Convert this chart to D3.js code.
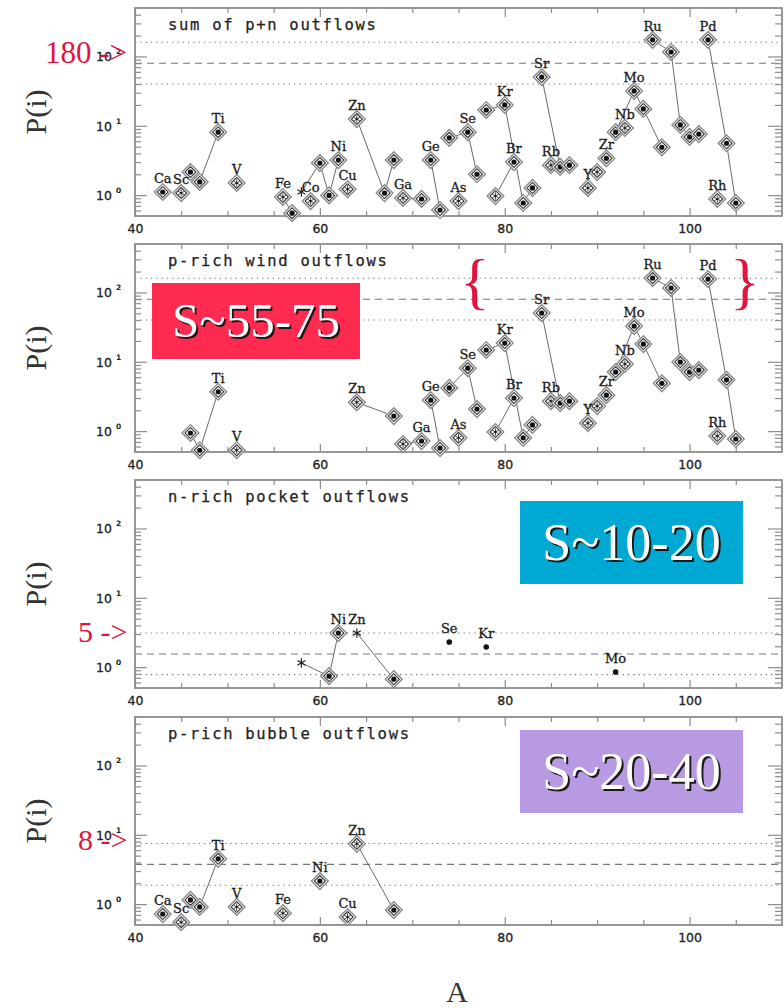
<!DOCTYPE html>
<html>
<head>
<meta charset="utf-8">
<script src="https://cdn.jsdelivr.net/npm/d3@7"></script>
<style>
  body { margin: 0; background: #fff; }
  svg { display: block; }
</style>
</head>
<body>
<svg width="784" height="1008"></svg>
<script>
// production factors P(i) against mass number A, one panel per outflow type
// read off the figure by eye, so values are approximate

const panelTitles = ["sum of p+n outflows", "p-rich wind outflows", "n-rich pocket outflows", "p-rich bubble outflows"]

// panel 1 - sum of p+n outflows
const sumA = [43,45,46,47,49,51,56,57,58,59,60,61,62,63,64,67,68,69,71,72,73,74,75,76,77,78,79,80,81,82,83,84,85,86,87,89,90,91,92,93,94,95,96,97,98,99,100,101,102,103,104,105]
const sumP = [1.11,1.07,2.15,1.55,8.1,1.5,0.94,0.55,1.11,0.82,2.9,0.99,3.2,1.22,12.5,1.07,3.2,0.91,0.88,3.2,0.61,6.7,0.82,8.1,2.0,16.9,0.97,20,3.0,0.77,1.27,50.5,2.7,2.55,2.7,1.27,2.15,3.4,8.1,9.3,31.8,17.5,174,4.9,116,10.3,6.9,7.6,174,0.88,5.6,0.77]
const sumStar = [45,51,56,59,63,64,69,75,79,85,89,90,93,103]
const sumBare = [58]
const sumChains = [[46,47,49],[56,57],[58,60,61,62],[64,67,68],[69,71],[72,73],[74,76,77],[78,80,82,83],[79,81],[84,86],[92,94,95,97],[96,98,99,100,101],[102,104,105]]
const sumLabels = [["Ca",43],["Sc",45],["Ti",49],["V",51],["Fe",56],["Co",59],["Ni",62],["Cu",63],["Zn",64],["Ga",69],["Ge",72],["As",75],["Se",76],["Kr",80],["Br",81],["Sr",84],["Rb",85],["Y",89],["Zr",91],["Nb",93],["Mo",94],["Ru",96],["Pd",102],["Rh",103]]
const sumRef = [160, 80, 40]

// panel 2 - p-rich wind outflows
const windA = [46,47,49,51,64,68,69,71,72,73,74,75,76,77,78,79,80,81,82,83,84,85,86,87,89,90,91,92,93,94,95,96,97,98,99,100,101,102,103,104,105]
const windP = [0.94,0.53,3.7,0.53,2.6,1.65,0.65,0.72,2.8,0.57,4.2,0.8,8.1,2.08,14.8,0.97,18.6,3.0,0.8,1.23,50.5,2.7,2.54,2.7,1.3,2.3,3.3,7.1,9.3,32.8,18.0,161,4.9,116,9.9,7.1,7.6,156,0.85,5.5,0.77]
const windStar = [51,64,69,75,79,85,89,90,93,103]
const windChains = [[46,47,49],[64,68],[69,71],[72,73],[74,76,77],[78,80,82,83],[79,81],[84,86],[92,94,95,97],[96,98,99,100,101],[102,104,105]]
const windLabels = [["Ti",49],["V",51],["Zn",64],["Ga",71],["Ge",72],["As",75],["Se",76],["Kr",80],["Br",81],["Sr",84],["Rb",85],["Y",89],["Zr",91],["Nb",93],["Mo",94],["Ru",96],["Pd",102],["Rh",103]]
const windRef = [160, 80, 40]

// panel 3 - n-rich pocket outflows
const pocketA = [58,61,62,64,68,74,78,92]
const pocketP = [1.15,0.74,3.1,3.1,0.67,2.3,1.95,0.85]
const pocketBare = [58,64]
const pocketDots = [74,78,92]
const pocketChains = [[58,61,62],[64,68]]
const pocketLabels = [["Ni",62],["Zn",64],["Se",74],["Kr",78],["Mo",92]]
const pocketRef = [3.1, 1.55, 0.78]

// panel 4 - p-rich bubble outflows
const bubbleA = [43,45,46,47,49,51,56,60,63,64,68]
const bubbleP = [0.72,0.55,1.15,0.91,4.5,0.91,0.74,2.15,0.65,7.4,0.82]
const bubbleStar = [45,51,56,63,64]
const bubbleChains = [[46,47,49],[64,68]]
const bubbleLabels = [["Ca",43],["Sc",45],["Ti",49],["V",51],["Fe",56],["Ni",60],["Cu",63],["Zn",64]]
const bubbleRef = [7.5, 3.75, 1.875]

const xTicks = [40, 60, 80, 100]
const yTicks = [1, 10, 100]

const panels = [
  {A: sumA, P: sumP, star: sumStar, bare: sumBare, dots: [], chains: sumChains, labels: sumLabels, refs: sumRef},
  {A: windA, P: windP, star: windStar, bare: [], dots: [], chains: windChains, labels: windLabels, refs: windRef},
  {A: pocketA, P: pocketP, star: [], bare: pocketBare, dots: pocketDots, chains: pocketChains, labels: pocketLabels, refs: pocketRef},
  {A: bubbleA, P: bubbleP, star: bubbleStar, bare: [], dots: [], chains: bubbleChains, labels: bubbleLabels, refs: bubbleRef}
]

const svg = d3.select("svg")
svg.append("rect").attr("width", 784).attr("height", 1008).attr("fill", "#fff")

const left = 135, right = 782, panelH = 208
const panelTop = [8, 244, 480, 717]
const x = d3.scaleLinear().domain([40, 110]).range([left, right])

const minorX = d3.range(45, 110, 5).filter(v => v % 20 != 0)
const minorY = [0.6, 0.7, 0.8, 0.9].concat(yTicks.flatMap(d => d3.range(2, 10).map(m => m * d))).filter(v => v < 500)

const frameCol = "#8c8c8c"
const serif = "'Liberation Serif', 'Times New Roman', serif"

const diamondOuter = d3.symbol().type(d3.symbolSquare).size(140)
const diamondInner = d3.symbol().type(d3.symbolSquare).size(60)
const aster = d3.symbol().type(d3.symbolAsterisk).size(36)
const asterBig = d3.symbol().type(d3.symbolAsterisk).size(60)

function styleAxis(sel) {
  sel.select(".domain").remove()
  sel.selectAll(".tick line").attr("stroke", frameCol).attr("stroke-width", 1.2)
}

panels.forEach((p, k) => {
  const top = panelTop[k], bot = top + panelH
  const y = d3.scaleLog().domain([0.5, 500]).range([bot, top])
  const g = svg.append("g")

  // reference levels: dotted, dashed, dotted
  p.refs.forEach((v, i) => {
    g.append("line")
      .attr("x1", left).attr("x2", right)
      .attr("y1", y(v)).attr("y2", y(v))
      .attr("stroke", "#777").attr("stroke-width", 1.1)
      .attr("stroke-dasharray", i == 1 ? "7,5" : "1.3,4")
  })

  // ticks on all four sides, pointing in
  g.append("g").attr("transform", `translate(0,${bot})`)
    .call(d3.axisBottom(x).tickValues(xTicks).tickSize(-8).tickPadding(8))
    .call(styleAxis)
    .call(a => a.selectAll("text").attr("font-family", "'DejaVu Sans', sans-serif").attr("font-size", 12.5)
      .attr("fill", "#222").attr("stroke", "#222").attr("stroke-width", 0.3))
  g.append("g").attr("transform", `translate(0,${bot})`)
    .call(d3.axisBottom(x).tickValues(minorX).tickSize(-5).tickFormat(""))
    .call(styleAxis)
  g.append("g").attr("transform", `translate(0,${top})`)
    .call(d3.axisTop(x).tickValues(xTicks).tickSize(-9).tickFormat(""))
    .call(styleAxis)
  g.append("g").attr("transform", `translate(0,${top})`)
    .call(d3.axisTop(x).tickValues(minorX).tickSize(-5).tickFormat(""))
    .call(styleAxis)
  g.append("g").attr("transform", `translate(${left},0)`)
    .call(d3.axisLeft(y).tickValues(yTicks).tickSize(-12).tickFormat(""))
    .call(styleAxis)
  g.append("g").attr("transform", `translate(${left},0)`)
    .call(d3.axisLeft(y).tickValues(minorY).tickSize(-6).tickFormat(""))
    .call(styleAxis)
  g.append("g").attr("transform", `translate(${right},0)`)
    .call(d3.axisRight(y).tickValues(yTicks).tickSize(-14).tickFormat(""))
    .call(styleAxis)
  g.append("g").attr("transform", `translate(${right},0)`)
    .call(d3.axisRight(y).tickValues(minorY).tickSize(-7).tickFormat(""))
    .call(styleAxis)

  // 10^n labels
  yTicks.forEach(v => {
    g.append("text").attr("x", 112).attr("y", y(v) + 5)
      .attr("text-anchor", "end").attr("font-family", "'DejaVu Sans', sans-serif")
      .attr("font-size", 12.5).attr("fill", "#222").attr("stroke", "#222").attr("stroke-width", 0.3).text("10")
    g.append("text").attr("x", 116).attr("y", y(v) - 2)
      .attr("font-family", "'DejaVu Sans', sans-serif").attr("font-weight", "bold")
      .attr("font-size", 7.5).attr("fill", "#222").text(Math.round(Math.log10(v)))
  })

  // frame
  g.append("rect").attr("x", left).attr("y", top)
    .attr("width", right - left).attr("height", panelH)
    .attr("fill", "none").attr("stroke", frameCol).attr("stroke-width", 1.8)

  // panel title
  g.append("text").attr("x", 168).attr("y", top + 22)
    .attr("font-family", "'DejaVu Sans Mono', monospace").attr("font-size", 15.5)
    .attr("letter-spacing", 1.7).attr("fill", "#222").attr("stroke", "#222").attr("stroke-width", 0.25)
    .text(panelTitles[k])

  // y title
  g.append("text").attr("transform", `translate(35,${top + panelH / 2}) rotate(-90)`)
    .attr("text-anchor", "middle").attr("dominant-baseline", "central")
    .attr("font-family", serif).attr("font-size", 30).attr("fill", "#333").text("P(i)")

  const pt = a => [x(a), y(p.P[p.A.indexOf(a)])]

  // isotope chains of one element
  p.chains.forEach(c => {
    g.append("path").attr("d", d3.line()(c.map(pt)))
      .attr("fill", "none").attr("stroke", "#6a6a6a").attr("stroke-width", 1)
  })

  // markers
  p.A.forEach((a, i) => {
    const [cx, cy] = [x(a), y(p.P[i])]
    const m = g.append("g").attr("transform", `translate(${cx},${cy})`)
    if (p.bare.includes(a)) {
      m.append("path").attr("d", asterBig()).attr("fill", "none").attr("stroke", "#222").attr("stroke-width", 1.2)
      return
    }
    if (p.dots.includes(a)) {
      m.append("circle").attr("r", 2.8).attr("fill", "#111")
      return
    }
    m.append("path").attr("d", diamondOuter()).attr("transform", "rotate(45)")
      .attr("fill", "#fff").attr("stroke", "#8a8a8a").attr("stroke-width", 1.4)
    m.append("path").attr("d", diamondInner()).attr("transform", "rotate(45)")
      .attr("fill", "none").attr("stroke", "#333").attr("stroke-width", 1.1)
    if (p.star.includes(a)) {
      m.append("path").attr("d", aster()).attr("fill", "none").attr("stroke", "#333").attr("stroke-width", 0.9)
      m.append("circle").attr("r", 1).attr("fill", "#111")
    } else {
      m.append("circle").attr("r", 2.6).attr("fill", "#111")
    }
  })

  // element names
  p.labels.forEach(([name, a]) => {
    const [lx, ly] = pt(a)
    g.append("text").attr("x", lx).attr("y", ly - 9)
      .attr("text-anchor", "middle").attr("font-family", "'DejaVu Serif', serif")
      .attr("font-size", 13).attr("fill", "#1a1a1a").attr("stroke", "#1a1a1a").attr("stroke-width", 0.3).text(name)
  })
})

// x title
svg.append("text").attr("x", 457).attr("y", 1002).attr("text-anchor", "middle")
  .attr("font-family", serif).attr("font-size", 30).attr("fill", "#333").text("A")

// coloured entropy boxes laid over the figure
const boxes = [
  {x: 152, y: 283, w: 208, h: 76, fill: "#ff2a50", text: "S~55-75", size: 49, base: 54},
  {x: 520, y: 501, w: 223, h: 83, fill: "#00a9d4", text: "S~10-20", size: 52, base: 59},
  {x: 520, y: 730, w: 223, h: 83, fill: "#b79ae2", text: "S~20-40", size: 52, base: 59}
]
boxes.forEach(b => {
  svg.append("rect").attr("x", b.x).attr("y", b.y).attr("width", b.w).attr("height", b.h).attr("fill", b.fill)
  ;[["#1a1a1a", 2], ["#fff", 0]].forEach(([c, off]) => {
    svg.append("text").attr("x", b.x + b.w / 2 + off).attr("y", b.y + b.base + off)
      .attr("text-anchor", "middle").attr("font-family", serif)
      .attr("font-size", b.size).attr("fill", c).text(b.text)
  })
})

// red hand annotations (they sit on top of the axis labels, as in the original)
const red = "#e3123f"
;[["180 ->", 45, 63, 31], ["5 ->", 78, 642, 30], ["8 ->", 78, 850, 30]].forEach(([t, ax, ay, s]) => {
  svg.append("text").attr("x", ax).attr("y", ay).attr("font-family", serif)
    .attr("font-size", s).attr("fill", red).text(t)
})
;[["{", 475], ["}", 745]].forEach(([t, bx]) => {
  svg.append("text").attr("x", bx).attr("y", 302).attr("text-anchor", "middle")
    .attr("font-family", serif).attr("font-size", 62).attr("fill", red).text(t)
})
</script>
</body>
</html>
